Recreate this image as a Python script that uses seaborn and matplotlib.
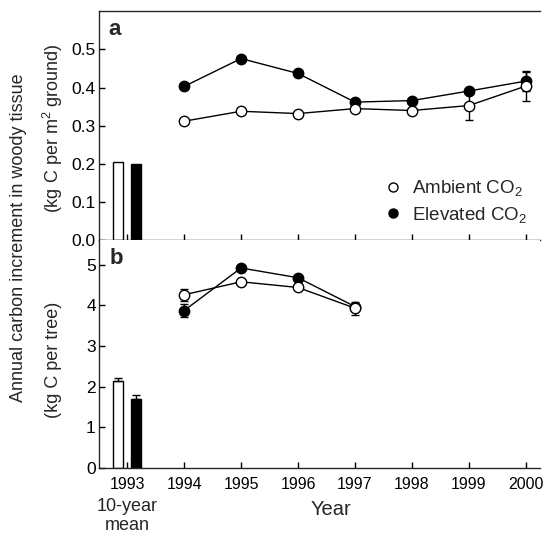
import numpy as np
import matplotlib
matplotlib.use("Agg")
import matplotlib.pyplot as plt
import seaborn as sns
from matplotlib.lines import Line2D

# Yearly values
years = [1994, 1995, 1996, 1997, 1998, 1999, 2000]

# panel a: kg C per m2 ground
amb_a = [0.312, 0.338, 0.332, 0.345, 0.340, 0.353, 0.404]
elev_a = [0.403, 0.476, 0.437, 0.362, 0.366, 0.391, 0.417]
amb_a_err = [0.0, 0.0, 0.0, 0.0, 0.0, 0.037, 0.040]
elev_a_err = [0.0, 0.0, 0.0, 0.0, 0.0, 0.0, 0.025]

# panel b: kg C per tree
years_b = [1994, 1995, 1996, 1997]
amb_b = [4.26, 4.58, 4.44, 3.93]
elev_b = [3.87, 4.92, 4.68, 3.97]
amb_b_err = [0.15, 0.0, 0.0, 0.16]
elev_b_err = [0.16, 0.0, 0.0, 0.0]

# 10-year mean bars (ambient, elevated)
mean_a = [0.205, 0.200]
mean_b = [2.14, 1.70]
mean_b_err = [0.08, 0.08]

xticks = [1993, 1994, 1995, 1996, 1997, 1998, 1999, 2000]

sns.set_style("ticks")
plt.rcParams['font.family'] = ['Liberation Sans', 'DejaVu Sans']
plt.rcParams['mathtext.default'] = 'regular'
plt.rcParams['xtick.direction'] = 'in'
plt.rcParams['ytick.direction'] = 'in'

fig = plt.figure(figsize=(5.45, 5.33), dpi=100)
ax_a = fig.add_axes([0.181, 0.549, 0.81, 0.430])
ax_b = fig.add_axes([0.181, 0.1225, 0.81, 0.4265])

mk = dict(marker='o', markersize=7.5, color='black', linewidth=1.0,
          markeredgewidth=1.0, markeredgecolor='black')


def draw_panel(ax, x, amb, elev, amb_err, elev_err, bars, bar_err):
    # bars for the 10-year mean at 1993
    bx = [1993 - 0.16, 1993 + 0.16]
    ax.bar(bx, bars, width=0.18, color=['white', 'black'], edgecolor='black',
           linewidth=1.0, yerr=bar_err if bar_err else None,
           error_kw=dict(ecolor='black', capsize=3, elinewidth=1.0, capthick=1.0),
           zorder=2)
    ax.errorbar(x, elev, yerr=elev_err, fmt='none', ecolor='black',
                elinewidth=1.0, capsize=3, capthick=1.0, zorder=2)
    sns.lineplot(x=x, y=elev, ax=ax, markerfacecolor='black', zorder=3, **mk)
    ax.errorbar(x, amb, yerr=amb_err, fmt='none', ecolor='black',
                elinewidth=1.0, capsize=3, capthick=1.0, zorder=4)
    sns.lineplot(x=x, y=amb, ax=ax, markerfacecolor='white', zorder=5, **mk)
    ax.set_xlim(1992.5, 2000.25)
    ax.set_xticks(xticks)
    ax.spines['right'].set_visible(False)
    for s in ['left', 'bottom', 'top']:
        ax.spines[s].set_linewidth(1.0)
    ax.tick_params(length=4, width=1.0, colors='black')
    ax.tick_params(axis='y', labelsize=12.5, pad=2)
    ax.tick_params(axis='x', labelsize=11.5, pad=6.5)
    ax.set_xlabel('')
    ax.set_ylabel('')


draw_panel(ax_a, years, amb_a, elev_a, amb_a_err, elev_a_err, mean_a, None)
draw_panel(ax_b, years_b, amb_b, elev_b, amb_b_err, elev_b_err, mean_b, [[0, 0], mean_b_err])

ax_a.set_ylim(0, 0.6)
ax_a.set_yticks([0.0, 0.1, 0.2, 0.3, 0.4, 0.5])
ax_a.set_yticklabels(['0.0', '0.1', '0.2', '0.3', '0.4', '0.5'])
ax_a.tick_params(axis='x', labelbottom=False)

ax_b.set_ylim(0, 5.6)
ax_b.set_yticks([0, 1, 2, 3, 4, 5])
ax_b.set_xticklabels([str(y) for y in xticks])
ax_b.spines['top'].set_visible(False)

ax_a.text(0.023, 0.895, 'a', transform=ax_a.transAxes, fontsize=16,
          fontweight='bold', va='baseline', ha='left')
ax_b.text(0.025, 0.894, 'b', transform=ax_b.transAxes, fontsize=16,
          fontweight='bold', va='baseline', ha='left')

handles = [
    Line2D([], [], linestyle='none', marker='o', markersize=6.5,
           markerfacecolor='white', markeredgecolor='black'),
    Line2D([], [], linestyle='none', marker='o', markersize=6.5,
           markerfacecolor='black', markeredgecolor='black'),
]
ax_a.legend(handles, ['Ambient CO$_2$', 'Elevated CO$_2$'], loc='center left',
            bbox_to_anchor=(0.6456, 0.170), borderaxespad=0, borderpad=0,
            frameon=False, fontsize=13.5, handlelength=1.0,
            handletextpad=0.5, labelspacing=0.35)

fig.text(0.607, 0.0432, 'Year', ha='center', va='center', fontsize=14.5)
ax_b.text(1993, -0.135, '10-year\nmean', transform=ax_b.get_xaxis_transform(),
          ha='center', va='top', fontsize=13, linespacing=1.15)

fig.text(0.034, 0.5535, 'Annual carbon increment in woody tissue', rotation=90,
         ha='center', va='center', fontsize=13)
fig.text(0.098, 0.760, '(kg C per m$^2$ ground)', rotation=90,
         ha='center', va='center', fontsize=13)
fig.text(0.098, 0.3245, '(kg C per tree)', rotation=90,
         ha='center', va='center', fontsize=13)

fig.savefig('out.png', dpi=100)
